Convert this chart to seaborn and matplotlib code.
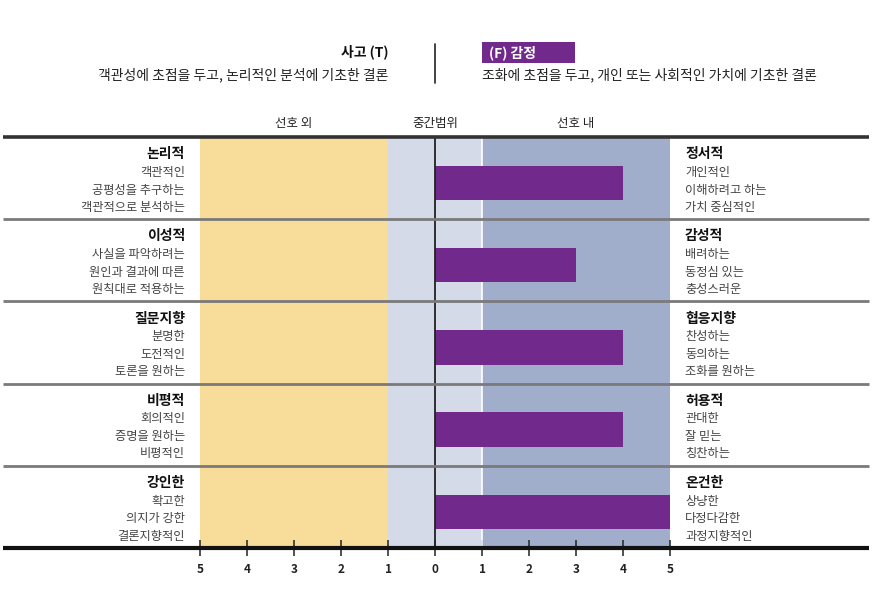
import numpy as np
import pandas as pd
import matplotlib
matplotlib.use("Agg")
import matplotlib.pyplot as plt
from matplotlib.patches import Rectangle
import seaborn as sns

# ===== Data =====
left_titles = ["논리적", "이성적", "질문지향", "비평적", "강인한"]
left_subs = [
    ["객관적인", "공평성을 추구하는", "객관적으로 분석하는"],
    ["사실을 파악하려는", "원인과 결과에 따른", "원칙대로 적용하는"],
    ["분명한", "도전적인", "토론을 원하는"],
    ["회의적인", "증명을 원하는", "비평적인"],
    ["확고한", "의지가 강한", "결론지향적인"],
]
right_titles = ["정서적", "감성적", "협응지향", "허용적", "온건한"]
right_subs = [
    ["개인적인", "이해하려고 하는", "가치 중심적인"],
    ["배려하는", "동정심 있는", "충성스러운"],
    ["찬성하는", "동의하는", "조화를 원하는"],
    ["관대한", "잘 믿는", "칭찬하는"],
    ["상냥한", "다정다감한", "과정지향적인"],
]
scores = [4, 3, 4, 4, 5]
tick_values = [-5, -4, -3, -2, -1, 0, 1, 2, 3, 4, 5]
tick_labels = [str(abs(v)) for v in tick_values]
zone_labels = ["선호 외", "중간범위", "선호 내"]
zone_centers = [-3, 0, 3]

df = pd.DataFrame({"row": right_titles, "score": scores})

# ===== Style =====
sns.set_style("white")
plt.rcParams["font.family"] = ["Noto Sans CJK KR", "DejaVu Sans"]

W, H = 872, 599
fig = plt.figure(figsize=(W / 100, H / 100), dpi=100)
# axes placed in pixel terms: x -5..5 -> 200..670 px, rows 137..548 px
ax = fig.add_axes([200 / W, 1 - 548 / H, 470 / W, (548 - 137) / H])

# background zones
ax.axvspan(-5, -1, color="#F8DC9A", lw=0, zorder=0)
ax.axvspan(-1, 1, color="#D4DAE7", lw=0, zorder=0)
ax.axvspan(1, 5, color="#A0AECB", lw=0, zorder=0)
ax.axvline(1, color="white", lw=1.2, zorder=1)

sns.barplot(data=df, x="score", y="row", orient="h", color="#712A8B",
            saturation=1, width=0.42, ax=ax, zorder=3, linewidth=0)
# bars sit slightly below the row centre in the original
for p in ax.containers[0]:
    p.set_y(p.get_y() + 0.06)

ax.axvline(0, color="#222222", lw=1.3, zorder=4)
ax.set_xlim(-5, 5)
ax.set_ylim(4.5, -0.5)

# row lines extend past the axes
xl, xr = -9.19, 9.23
ax.hlines(-0.5, xl, xr, color="#333333", lw=2.6, clip_on=False, zorder=5)
for y in [0.5, 1.5, 2.5, 3.5]:
    ax.hlines(y, xl, xr, color="#7a7a7a", lw=2.0, clip_on=False, zorder=5)
ax.hlines(4.5, xl, xr, color="#111111", lw=3.0, clip_on=False, zorder=5)

# row labels
for i in range(5):
    ax.text(-5.32, i - 0.29, left_titles[i], ha="right", va="center",
            fontsize=10, fontweight="bold", color="#111111")
    ax.text(5.32, i - 0.29, right_titles[i], ha="left", va="center",
            fontsize=10, fontweight="bold", color="#111111")
    for j, off in enumerate([-0.07, 0.145, 0.355]):
        ax.text(-5.32, i + off, left_subs[i][j], ha="right", va="center",
                fontsize=8.8, color="#444444")
        ax.text(5.32, i + off, right_subs[i][j], ha="left", va="center",
                fontsize=8.8, color="#444444")

# ticks
ax.set_yticks([])
ax.set_ylabel("")
ax.set_xlabel("")
ax.set_xticks(tick_values)
ax.set_xticklabels(tick_labels, fontsize=8.5, fontweight="bold",
                   color="#222222")
ax.tick_params(axis="x", bottom=True, direction="inout", length=12,
               width=1.1, color="#222222", pad=5)
sns.despine(ax=ax, left=True, right=True, top=True, bottom=True)

# zone headers
for lab, xc in zip(zone_labels, zone_centers):
    ax.text(xc, -0.67, lab, ha="center", va="center", fontsize=9,
            color="#222222")

# top headers
fig.text(388 / W, 1 - 52 / H, "사고 (T)", ha="right", va="center",
         fontsize=10, fontweight="bold", color="#111111")
fig.text(388 / W, 1 - 75 / H, "객관성에 초점을 두고, 논리적인 분석에 기초한 결론",
         ha="right", va="center", fontsize=10, color="#222222")
fig.add_artist(plt.Line2D([435 / W, 435 / W], [1 - 44 / H, 1 - 83 / H],
                          color="#222222", lw=1.2))
fig.add_artist(Rectangle((482 / W, 1 - 63 / H), 93 / W, 21 / H,
                         color="#712A8B", lw=0))
fig.text(489 / W, 1 - 52.5 / H, "(F) 감정", ha="left", va="center",
         fontsize=10, fontweight="bold", color="white")
fig.text(482 / W, 1 - 75 / H, "조화에 초점을 두고, 개인 또는 사회적인 가치에 기초한 결론",
         ha="left", va="center", fontsize=10, color="#222222")

fig.savefig("out.png", dpi=100, facecolor="white")
